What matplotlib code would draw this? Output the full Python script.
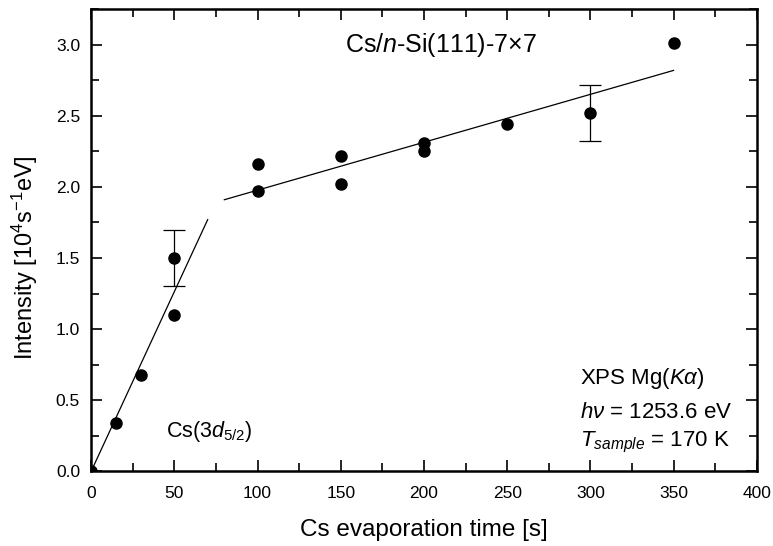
import numpy as np
import matplotlib.pyplot as plt
from matplotlib.ticker import MultipleLocator

plt.rcParams['font.family'] = ['Liberation Sans', 'DejaVu Sans']
plt.rcParams['mathtext.fontset'] = 'custom'
plt.rcParams['mathtext.rm'] = 'Liberation Sans'
plt.rcParams['mathtext.it'] = 'Liberation Sans:italic'

# measured points
time_s = [0, 15, 30, 50, 50, 100, 100, 150, 150, 200, 200, 250, 300, 350]
intensity = [0.0, 0.34, 0.68, 1.10, 1.50, 1.97, 2.16, 2.02, 2.22, 2.25, 2.31, 2.44, 2.52, 3.01]

# points with error bars
err_x = [50, 300]
err_y = [1.50, 2.52]
err_lo = [0.20, 0.20]
err_hi = [0.20, 0.20]

# linear fits
fit1_x = [0, 70]
fit1_y = [0.0, 1.77]
fit2_x = [80, 350]
fit2_y = [1.91, 2.82]

fig = plt.figure(figsize=(7.73, 5.46), dpi=100)
ax = fig.add_axes([0.118, 0.137, 0.861, 0.846])

ax.plot(fit1_x, fit1_y, color='black', lw=0.9)
ax.plot(fit2_x, fit2_y, color='black', lw=0.9)
ax.errorbar(err_x, err_y, yerr=[err_lo, err_hi], fmt='none', ecolor='black',
            elinewidth=0.9, capsize=8, capthick=0.9)
ax.plot(time_s, intensity, 'o', color='black', ms=8)

ax.set_xlim(0, 400)
ax.set_ylim(0, 3.25)
ax.xaxis.set_major_locator(MultipleLocator(50))
ax.xaxis.set_minor_locator(MultipleLocator(25))
ax.yaxis.set_major_locator(MultipleLocator(0.5))
ax.yaxis.set_minor_locator(MultipleLocator(0.25))
ax.yaxis.set_major_formatter(plt.FormatStrFormatter('%.1f'))
ax.tick_params(which='both', direction='in', top=True, right=True, labelsize=12.5, width=1.2)
ax.tick_params(which='major', length=8)
ax.tick_params(which='minor', length=6)
ax.tick_params(axis='x', pad=11)
ax.tick_params(axis='y', pad=8)
for s in ax.spines.values():
    s.set_linewidth(1.8)

ax.set_xlabel('Cs evaporation time [s]', fontsize=17.5)
ax.set_ylabel('Intensity [10$^{4}$s$^{-1}$eV]', fontsize=17)
ax.xaxis.set_label_coords(0.5, -0.104)
ax.yaxis.set_label_coords(-0.077, 0.463)

ax.text(152.5, 3.0, 'Cs/$n$-Si(111)-7×7', fontsize=18, va='center')
ax.text(45, 0.28, 'Cs($3d_{5/2}$)', fontsize=15.5, va='center')
ax.text(294, 0.654, 'XPS Mg($K\\alpha$)', fontsize=16, va='center')
ax.text(294, 0.415, '$h\\nu$ = 1253.6 eV', fontsize=16, va='center')
ax.text(294, 0.20, '$T_{sample}$ = 170 K', fontsize=16, va='center')

plt.savefig('out.png', dpi=100)
